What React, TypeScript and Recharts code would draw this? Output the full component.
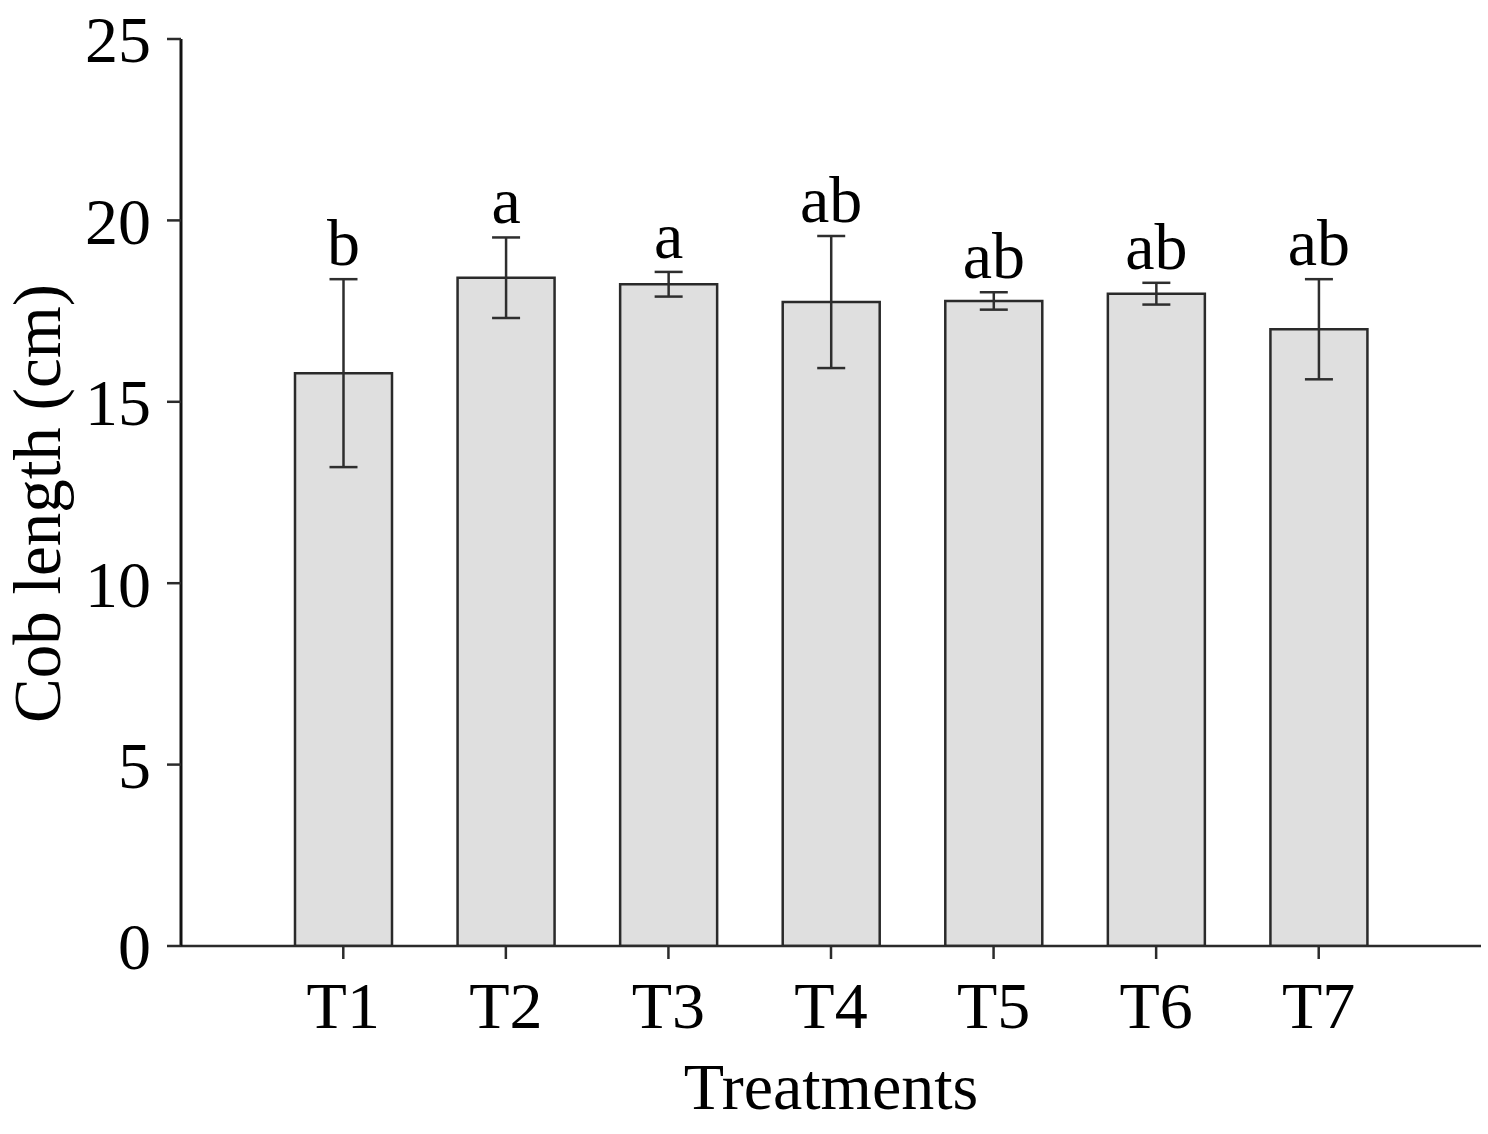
import React from 'react';
import { BarChart, Bar, XAxis, YAxis, ErrorBar, LabelList } from 'recharts';

const categories = ['T1', 'T2', 'T3', 'T4', 'T5', 'T6', 'T7'];
const means = [15.79, 18.42, 18.24, 17.75, 17.78, 17.98, 17.0];
const errors = [2.59, 1.11, 0.34, 1.82, 0.24, 0.3, 1.38];
const letters = ['b', 'a', 'a', 'ab', 'ab', 'ab', 'ab'];
const yTicks = [0, 5, 10, 15, 20, 25];

const data = categories.map((c, i) => ({ name: c, mean: means[i], err: errors[i] }));

const FONT = '"Liberation Serif", "Times New Roman", serif';
const AXIS = '#2b2b2b';

const LetterLabel = (props: any) => {
  const { x, y, width, height, value, index } = props;
  if (value == null || !height) return null;
  const pxPerUnit = height / value;
  const topErr = y - errors[index] * pxPerUnit;
  return (
    <text
      x={x + width / 2}
      y={topErr - 14}
      textAnchor="middle"
      fontFamily={FONT}
      fontSize={66}
      fill="#000"
    >
      {letters[index]}
    </text>
  );
};

const XLabel = (props: any) => {
  const vb = props.viewBox || { x: 0, y: 0, width: 0, height: 0 };
  return (
    <text x={vb.x + vb.width / 2} y={vb.y + 163} textAnchor="middle" fontFamily={FONT} fontSize={66} fill="#000">
      Treatments
    </text>
  );
};

const YLabel = (props: any) => {
  const vb = props.viewBox || { x: 0, y: 0, width: 0, height: 0 };
  const cy = vb.y + vb.height / 2 + 11;
  const cx = 60;
  return (
    <text
      x={cx}
      y={cy}
      transform={`rotate(-90 ${cx} ${cy})`}
      textAnchor="middle"
      fontFamily={FONT}
      fontSize={67}
      fill="#000"
    >
      Cob length (cm)
    </text>
  );
};

export default function App() {
  return (
    <div style={{ position: 'absolute', left: 0, top: 0, width: 1488, height: 1134, background: '#fff' }}>
      <BarChart
        width={1488}
        height={1134}
        data={data}
        margin={{ top: 39, right: 7, bottom: 0, left: 0 }}
      >
        <XAxis
          dataKey="name"
          height={188}
          padding={{ left: 81, right: 81 }}
          tickSize={13}
          tickMargin={22}
          axisLine={{ stroke: AXIS, strokeWidth: 2.5 }}
          tickLine={{ stroke: AXIS, strokeWidth: 2.5 }}
          tick={{ fontFamily: FONT, fontSize: 66, fill: '#000' }}
          label={<XLabel />}
          interval={0}
        />
        <YAxis
          width={181}
          domain={[0, 25]}
          ticks={yTicks}
          tickSize={14}
          tickMargin={16}
          axisLine={{ stroke: '#111', strokeWidth: 3 }}
          tickLine={{ stroke: AXIS, strokeWidth: 2.5 }}
          tick={{ fontFamily: FONT, fontSize: 66, fill: '#000' }}
          label={<YLabel />}
          allowDataOverflow
        />
        <Bar
          dataKey="mean"
          barSize={97}
          fill="#dfdfdf"
          stroke="#2a2a2a"
          strokeWidth={2.5}
          isAnimationActive={false}
        >
          <ErrorBar dataKey="err" width={14} stroke="#2e2e2e" strokeWidth={2.5} direction="y" isAnimationActive={false} />
          <LabelList dataKey="mean" content={<LetterLabel />} />
        </Bar>
      </BarChart>
    </div>
  );
}
